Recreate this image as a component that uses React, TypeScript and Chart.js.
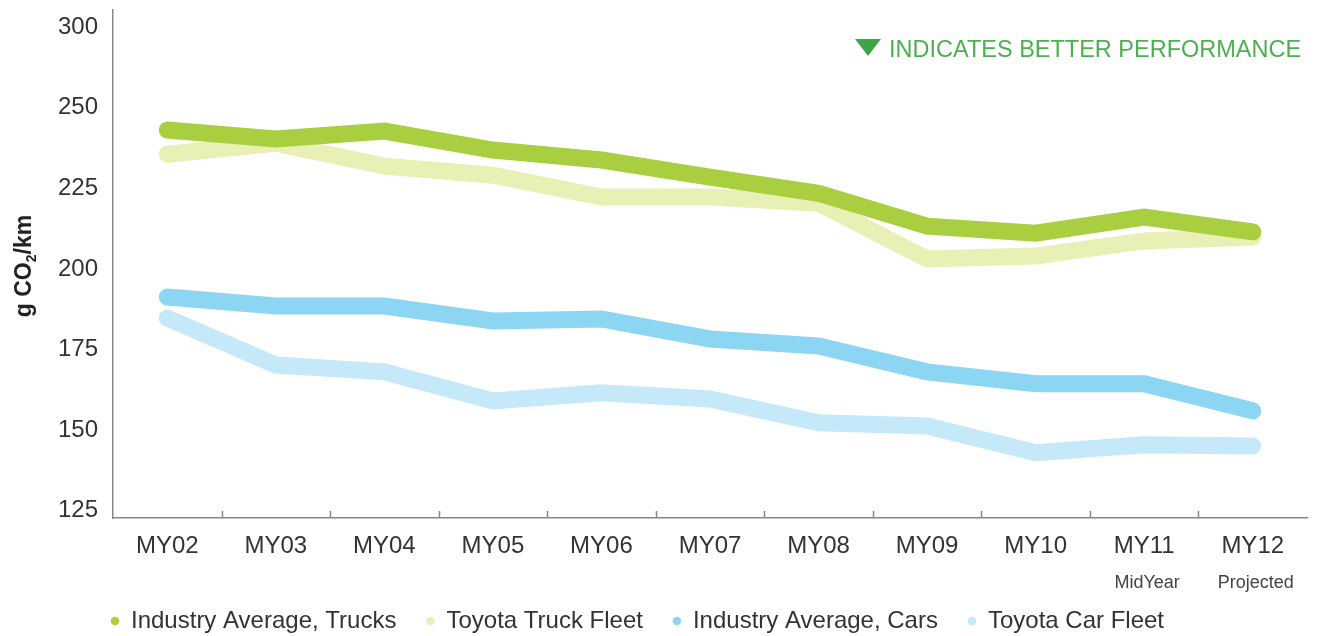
import React, { useEffect, useRef } from "react";
import { Chart, registerables } from "chart.js";

Chart.register(...registerables);

const categories = ["MY02", "MY03", "MY04", "MY05", "MY06", "MY07", "MY08", "MY09", "MY10", "MY11", "MY12"];
const subLabels = ["", "", "", "", "", "", "", "", "", "MidYear", "Projected"];

const industryTrucks = [243.1, 240.3, 242.8, 236.9, 233.8, 228.5, 223.5, 213.3, 211.1, 216.1, 211.5];
const toyotaTrucks = [235.6, 239.0, 231.9, 229.1, 222.3, 222.3, 220.4, 203.1, 204.0, 208.7, 209.9];
const industryCars = [191.3, 188.5, 188.5, 183.9, 184.5, 178.3, 176.1, 168.1, 164.4, 164.4, 156.0];
const toyotaCars = [184.8, 170.2, 168.1, 159.1, 161.6, 159.7, 152.3, 151.3, 143.0, 145.5, 145.1];

const seriesNames = ["Industry Average, Trucks", "Toyota Truck Fleet", "Industry Average, Cars", "Toyota Car Fleet"];
const seriesColors = ["#A9CE3F", "#E8F0B5", "#8CD6F4", "#C5E9F8"];

const yTickValues = [125, 150, 175, 200, 225, 250, 275];
const yTickLabels = ["125", "150", "175", "200", "225", "250", "300"];

const headerText = "INDICATES BETTER PERFORMANCE";
const yTitleMain = "g CO";
const yTitleSub = "2";
const yTitleEnd = "/km";

const FONT = "'Liberation Sans', Arial, Helvetica, sans-serif";
const AXIS_COLOR = "#86888b";
const TEXT_COLOR = "#333333";

const extrasPlugin = {
  id: "extras",
  afterDraw(chart: any) {
    const ctx = chart.ctx;
    const area = chart.chartArea;
    const xs = chart.scales.x;
    ctx.save();
    // small tick marks between categories (pointing up into the plot)
    ctx.strokeStyle = AXIS_COLOR;
    ctx.lineWidth = 1.5;
    for (let i = 0; i < categories.length - 1; i++) {
      const x = Math.round((xs.getPixelForValue(i) + xs.getPixelForValue(i + 1)) / 2) + 0.5;
      ctx.beginPath();
      ctx.moveTo(x, area.bottom);
      ctx.lineTo(x, area.bottom - 7);
      ctx.stroke();
    }
    // sub labels under x ticks
    ctx.fillStyle = "#444";
    ctx.font = `18px ${FONT}`;
    ctx.textAlign = "center";
    ctx.textBaseline = "middle";
    subLabels.forEach((s, i) => {
      if (s) ctx.fillText(s, xs.getPixelForValue(i) + 3, 583);
    });
    // header
    ctx.fillStyle = "#3DA447";
    ctx.beginPath();
    ctx.moveTo(855, 39);
    ctx.lineTo(881, 39);
    ctx.lineTo(868, 56);
    ctx.closePath();
    ctx.fill();
    ctx.fillStyle = "#4DB050";
    ctx.font = `23.5px ${FONT}`;
    ctx.textAlign = "left";
    ctx.textBaseline = "alphabetic";
    ctx.fillText(headerText, 889, 57);
    // y axis title
    const bigFont = `bold 23px ${FONT}`;
    const smallFont = `bold 14px ${FONT}`;
    ctx.font = bigFont;
    const w1 = ctx.measureText(yTitleMain).width;
    const w3 = ctx.measureText(yTitleEnd).width;
    ctx.font = smallFont;
    const w2 = ctx.measureText(yTitleSub).width;
    const total = w1 + w2 + w3;
    ctx.translate(31, 266);
    ctx.rotate(-Math.PI / 2);
    ctx.fillStyle = "#222";
    let x0 = -total / 2;
    ctx.font = bigFont;
    ctx.fillText(yTitleMain, x0, 0);
    x0 += w1;
    ctx.font = smallFont;
    ctx.fillText(yTitleSub, x0, 5);
    x0 += w2;
    ctx.font = bigFont;
    ctx.fillText(yTitleEnd, x0, 0);
    ctx.restore();
  },
};

export default function App() {
  const ref = useRef<HTMLCanvasElement | null>(null);

  useEffect(() => {
    if (!ref.current) return;
    const series = [industryTrucks, toyotaTrucks, industryCars, toyotaCars];
    const chart = new Chart(ref.current, {
      type: "line",
      data: {
        labels: categories,
        datasets: series.map((d, i) => ({
          label: seriesNames[i],
          data: d,
          borderColor: seriesColors[i],
          backgroundColor: seriesColors[i],
          borderWidth: 17,
          borderCapStyle: "round",
          borderJoinStyle: "miter",
          pointRadius: 0,
          pointHoverRadius: 0,
          tension: 0,
          fill: false,
          clip: false,
        })),
      },
      options: {
        animation: false,
        responsive: false,
        devicePixelRatio: 1,
        events: [],
        layout: { padding: { top: 10, right: 11, left: 81, bottom: -7 } },
        plugins: {
          tooltip: { enabled: false },
          title: { display: false },
          legend: {
            display: true,
            position: "bottom",
            align: "start",
            labels: {
              usePointStyle: true,
              boxWidth: 8,
              boxHeight: 6,
              padding: 30,
              color: TEXT_COLOR,
              font: { family: FONT, size: 24 },
              generateLabels: (ch: any) =>
                ch.data.datasets.map((ds: any, i: number) => ({
                  text: ds.label,
                  fillStyle: seriesColors[i],
                  strokeStyle: seriesColors[i],
                  lineWidth: 0,
                  pointStyle: "circle",
                  hidden: false,
                  datasetIndex: i,
                  fontColor: TEXT_COLOR,
                })),
            },
          },
        },
        scales: {
          x: {
            type: "category",
            offset: true,
            grid: { display: false, drawTicks: false },
            border: { display: true, color: AXIS_COLOR, width: 1.5 },
            ticks: {
              padding: 14,
              color: TEXT_COLOR,
              font: { family: FONT, size: 24 },
              maxRotation: 0,
              autoSkip: false,
            },
            afterFit: (s: any) => {
              s.height = 61;
              s.paddingLeft = 0;
              s.paddingRight = 0;
            },
          },
          y: {
            type: "linear",
            min: 122.77,
            max: 280.33,
            grid: { display: false, drawTicks: false },
            border: { display: true, color: AXIS_COLOR, width: 1.5 },
            afterBuildTicks: (s: any) => {
              s.ticks = yTickValues.map((v) => ({ value: v }));
            },
            ticks: {
              mirror: true,
              padding: -55,
              color: TEXT_COLOR,
              font: { family: FONT, size: 24 },
              callback: (_v: any, idx: number) => yTickLabels[idx],
            },
            afterFit: (s: any) => {
              s.width = 32;
              s.paddingTop = 0;
              s.paddingBottom = 0;
            },
          },
        },
      },
      plugins: [extrasPlugin],
    } as any);
    return () => chart.destroy();
  }, []);

  return (
    <div style={{ position: "fixed", left: 0, top: 0, width: 1318, height: 636, background: "#fff" }}>
      <canvas ref={ref} width={1318} height={636} style={{ display: "block" }} />
    </div>
  );
}
